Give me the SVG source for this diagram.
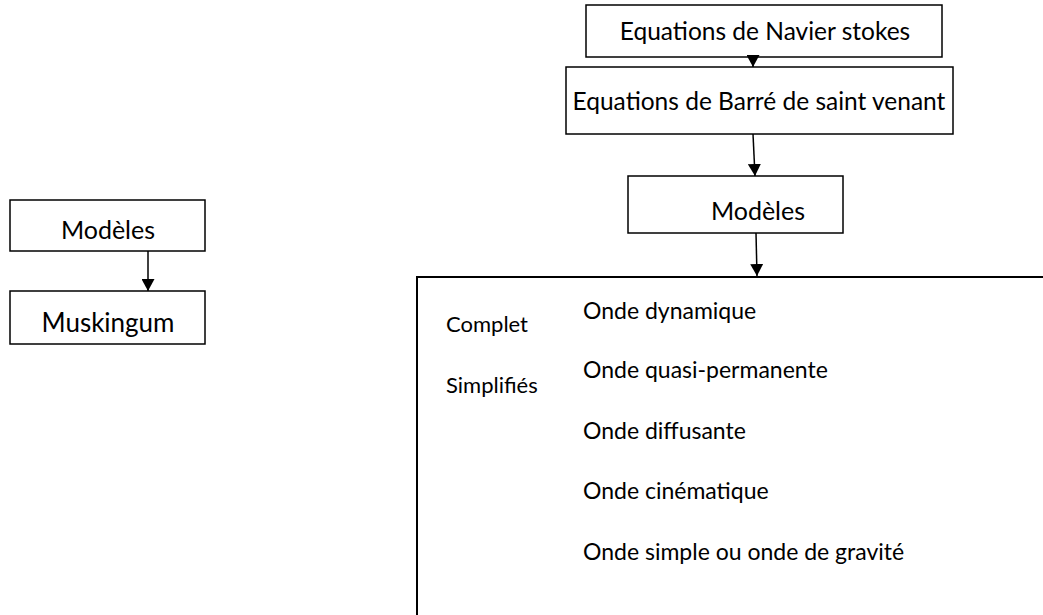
<svg xmlns="http://www.w3.org/2000/svg" width="1043" height="615" viewBox="0 0 1043 615">
<defs>
<marker id="ah" markerWidth="13" markerHeight="13" refX="12" refY="6.5" orient="auto" markerUnits="userSpaceOnUse">
<path d="M0,0 L12,6.5 L0,13 Z" fill="#000"/>
</marker>
<style>
.box{fill:#fff;stroke:#000;stroke-width:1.5}
.big{fill:none;stroke:#000;stroke-width:2}
.t{font-family:Lato,"Liberation Sans",sans-serif;font-size:24.5px;fill:#000}
.o{font-family:Lato,"Liberation Sans",sans-serif;font-size:23px;fill:#000}
.s{font-family:Lato,"Liberation Sans",sans-serif;font-size:22px;fill:#000}
.tl{font-family:Lato,"Liberation Sans",sans-serif;font-size:25px;fill:#000}
.c{text-anchor:middle}
.con{stroke:#000;stroke-width:1.5;fill:none;marker-end:url(#ah)}
</style>
</defs>
<rect width="1043" height="615" fill="#fff"/>
<g id="n-navier">
<rect class="box" x="586" y="5" width="356" height="52"/>
<text class="t c" x="765" y="40">Equations de Navier stokes</text>
</g>
<g id="n-barre">
<rect class="box" x="566" y="67" width="387" height="67"/>
<text class="t c" x="759" y="110">Equations de Barré de saint venant</text>
</g>
<g id="n-modeles-r">
<rect class="box" x="628" y="176" width="215" height="57"/>
<text class="tl c" x="758" y="220">Modèles</text>
</g>
<g id="n-modeles-l">
<rect class="box" x="10" y="200" width="195" height="51"/>
<text class="tl c" x="108" y="239">Modèles</text>
</g>
<g id="n-muskingum">
<rect class="box" x="10" y="291" width="195" height="53"/>
<text class="tl c" x="108" y="332" style="font-size:26px">Muskingum</text>
</g>
<g id="n-types">
<path class="big" d="M1050,277 L417,277 L417,620"/>
<text class="s" x="446" y="332">Complet</text>
<text class="o" x="583" y="319">Onde dynamique</text>
<text class="s" x="446" y="393">Simplifiés</text>
<text class="o" x="583" y="378">Onde quasi-permanente</text>
<text class="o" x="583" y="439">Onde diffusante</text>
<text class="o" x="583" y="499">Onde cinématique</text>
<text class="o" x="583" y="560">Onde simple ou onde de gravité</text>
</g>
<g id="connectors">
<line class="con" x1="753" y1="57" x2="753" y2="67"/>
<line class="con" x1="753" y1="134" x2="755" y2="176"/>
<line class="con" x1="756" y1="233" x2="757" y2="276"/>
<line class="con" x1="148" y1="251" x2="148" y2="291"/>
</g>
</svg>
